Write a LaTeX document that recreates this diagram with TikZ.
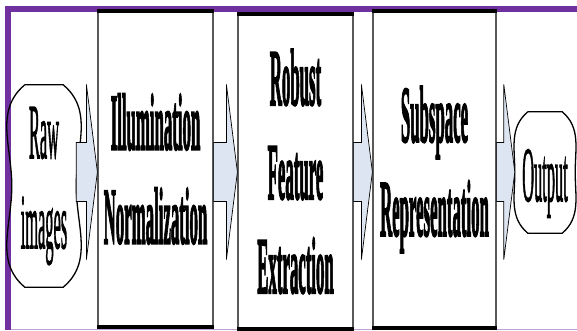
\documentclass[tikz,border=0pt]{standalone}
\usepackage{fontspec}
\setmainfont{Liberation Serif}
\newfontfamily\stagefont{Liberation Serif Bold}[FakeBold=3]
\newfontfamily\termfont{Liberation Serif}[FakeBold=2]
\usepackage{graphicx}
\usetikzlibrary{calc}
\definecolor{framepurple}{RGB}{112,48,160}
\definecolor{arrowfill}{RGB}{221,229,242}
\newcommand{\narrow}[1]{\scalebox{0.21}[1]{#1}}

\begin{document}
\begin{tikzpicture}[x=1pt, y=1pt,
    stage/.style={draw=black!65, line width=1.2pt, inner sep=0pt, align=center, font=\stagefont\fontsize{80}{94}\selectfont},
    terminal/.style={inner sep=0pt, align=center, font=\termfont\fontsize{78}{90}\selectfont},
    edge/.style={line width=4pt},
    blockarrow/.style={fill=arrowfill, draw=black, line width=0.7pt},
    shaft/.style={line width=1.8pt}
]
\useasboundingbox (0,0) rectangle (577,330);

% Frame
\fill[framepurple] (5,318) rectangle (577,324);
\fill[framepurple] (5,0) rectangle (11,324);
\draw[framepurple!45, line width=0.8pt] (11,0.6) -- (577,0.6);

% Stages
\node[terminal, minimum width=64pt, minimum height=202pt] (raw) at (44,144) {\narrow{Raw}\\\narrow{images}};
\node[stage, minimum width=115pt, minimum height=314pt] (illum) at (155.5,161) {\narrow{Illumination}\\\narrow{Normalization}};
\node[stage, minimum width=115pt, minimum height=313pt] (robust) at (295.5,158.5) {\narrow{Robust}\\\narrow{Feature}\\\narrow{Extraction}};
\node[stage, minimum width=123pt, minimum height=315pt] (subsp) at (434.5,160.5) {\narrow{Subspace}\\\narrow{Representation}};
\node[terminal, minimum width=60pt, minimum height=121pt, text height=62pt, text depth=5pt] (out) at (545,157.5) {\narrow{Output}};

% Heavy top and bottom edges
\foreach \n in {illum,robust,subsp}
  \draw[edge] (\n.north west) -- (\n.north east) (\n.south west) -- (\n.south east);

% Rounded ends
\foreach \n in {raw,out}
  \draw[line width=1.3pt] ([xshift=13pt]\n.north west) -- ([xshift=-13pt]\n.north east)
    to[out=-40,in=90] (\n.east) to[out=-90,in=40] ([xshift=-13pt]\n.south east)
    -- ([xshift=13pt]\n.south west) to[out=140,in=-90] (\n.west)
    to[out=90,in=-140] ([xshift=13pt]\n.north west);

% Block arrows
\coordinate (ax) at (0,158);
\foreach \a/\b in {raw/illum,illum/robust,robust/subsp,subsp/out} {
  \filldraw[blockarrow] ($(\a.east |- ax)+(0,29.5)$) -- ($(\b.west |- ax)+(-11,29.5)$) -- ++(0,58)
    -- (\b.west |- ax) -- ++(-11,-87.5) -- ++(0,58) -- ($(\a.east |- ax)+(0,-29.5)$) -- cycle;
  \draw[shaft] ($(\a.east |- ax)+(0,29.5)$) -- ($(\b.west |- ax)+(-11,29.5)$);
  \draw[shaft] ($(\a.east |- ax)+(0,-29.5)$) -- ($(\b.west |- ax)+(-11,-29.5)$);
}

\end{tikzpicture}
\end{document}
